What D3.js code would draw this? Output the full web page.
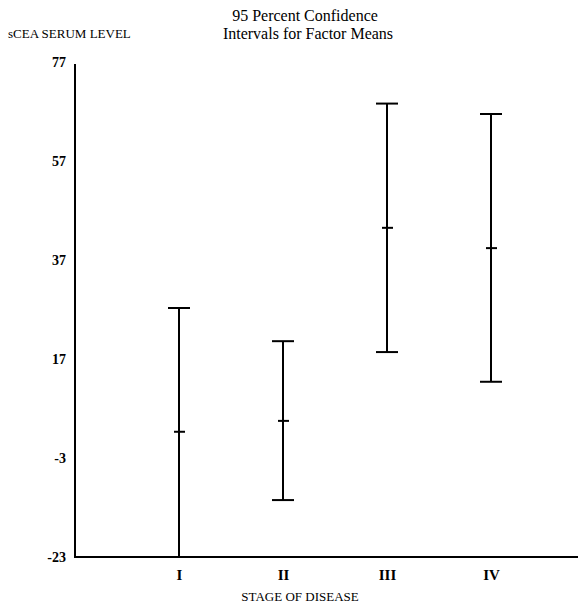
<!DOCTYPE html>
<html>
<head>
<meta charset="utf-8">
<script src="https://cdn.jsdelivr.net/npm/d3@7"></script>
<style>
  body { margin: 0; background: #fff; }
  text { font-family: "Liberation Serif", "DejaVu Serif", serif; fill: #000; }
</style>
</head>
<body>
<div id="chart"></div>
<script>
var stages = ["I", "II", "III", "IV"];
var upper = [27.3, 20.6, 68.6, 66.5];
var means = [2.3, 4.5, 43.5, 39.4];
var lower = [-23, -11.5, 18.4, 12.4];
var yTicks = [77, 57, 37, 17, -3, -23];

var width = 578, height = 606;
var margin = { left: 75, top: 62, bottom: 49 };

var svg = d3
  .select("#chart")
  .append("svg")
  .attr("width", width)
  .attr("height", height);

var x = d3.scalePoint().domain(stages).range([margin.left, 595]).padding(1);
var y = d3
  .scaleLinear()
  .domain([-23, 77])
  .range([height - margin.bottom, margin.top]);

// axes
var yAxis = d3
  .axisLeft(y)
  .tickValues(yTicks)
  .tickFormat((d) => String(d))
  .tickSize(0)
  .tickPadding(9);
var gy = svg
  .append("g")
  .attr("transform", "translate(" + margin.left + ",0)")
  .call(yAxis);
gy.select(".domain").remove();
gy.selectAll("text")
  .style("font-size", "14px")
  .style("font-weight", "bold")
  .style("font-family", "Liberation Serif");

var xAxis = d3.axisBottom(x).tickSize(0).tickPadding(12);
var gx = svg
  .append("g")
  .attr("transform", "translate(0," + y(-23) + ")")
  .call(xAxis);
gx.select(".domain").remove();
gx.selectAll("text")
  .style("font-size", "15px")
  .style("font-weight", "bold")
  .style("font-family", "Liberation Serif");

svg
  .append("path")
  .attr("d", "M" + margin.left + "," + (y(77) + 2) + "V" + y(-23) + "H" + width)
  .style("fill", "none")
  .style("stroke", "#000")
  .style("stroke-width", 2);

// error bars
var data = stages.map(function (s, i) {
  return { stage: s, hi: upper[i], mean: means[i], lo: lower[i] };
});

var bars = svg.selectAll(null).data(data).enter().append("g");
bars
  .append("line")
  .attr("x1", (d) => x(d.stage))
  .attr("x2", (d) => x(d.stage))
  .attr("y1", (d) => y(d.hi))
  .attr("y2", (d) => y(d.lo));
bars
  .append("line")
  .attr("x1", (d) => x(d.stage) - 11)
  .attr("x2", (d) => x(d.stage) + 11)
  .attr("y1", (d) => y(d.hi))
  .attr("y2", (d) => y(d.hi));
bars
  .append("line")
  .attr("x1", (d) => x(d.stage) - 11)
  .attr("x2", (d) => x(d.stage) + 11)
  .attr("y1", (d) => y(d.lo))
  .attr("y2", (d) => y(d.lo));
bars
  .append("line")
  .attr("x1", (d) => x(d.stage) - 5)
  .attr("x2", (d) => x(d.stage) + 6)
  .attr("y1", (d) => y(d.mean))
  .attr("y2", (d) => y(d.mean));
bars.selectAll("line").style("stroke", "#000").style("stroke-width", 2);

// titles
svg
  .append("text")
  .attr("x", 305)
  .attr("y", 21)
  .attr("text-anchor", "middle")
  .style("font-size", "16px")
  .text("95 Percent Confidence");
svg
  .append("text")
  .attr("x", 308)
  .attr("y", 39)
  .attr("text-anchor", "middle")
  .style("font-size", "16px")
  .text("Intervals for Factor Means");
svg
  .append("text")
  .attr("x", 8)
  .attr("y", 38)
  .style("font-size", "13px")
  .text("sCEA SERUM LEVEL");
svg
  .append("text")
  .attr("x", 300)
  .attr("y", 601)
  .attr("text-anchor", "middle")
  .style("font-size", "13px")
  .text("STAGE OF DISEASE");
</script>
</body>
</html>
